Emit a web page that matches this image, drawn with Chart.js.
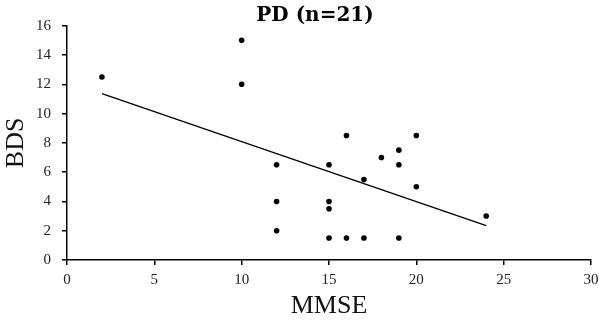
<!DOCTYPE html>
<html>
<head>
<meta charset="utf-8">
<script src="https://cdn.jsdelivr.net/npm/chart.js@4/dist/chart.umd.min.js"></script>
<style>
  html, body { margin: 0; padding: 0; background: #fff; }
  #wrap { width: 599px; height: 320px; position: relative; }
</style>
</head>
<body>
<div id="wrap"><canvas id="c" width="599" height="320"></canvas></div>
<script>
// Data
const chartTitle = 'PD (n=21)';
const xAxisTitle = 'MMSE';
const yAxisTitle = 'BDS';
const mmse = [2, 10, 10, 12, 12, 12, 15, 15, 15, 15, 16, 16, 17, 17, 18, 19, 19, 19, 20, 20, 24];
const bds  = [12.5, 15, 12, 6.5, 4, 2, 6.5, 4, 3.5, 1.5, 8.5, 1.5, 5.5, 1.5, 7, 7.5, 6.5, 1.5, 8.5, 5, 3];
const xTicks = [0, 5, 10, 15, 20, 25, 30];
const yTicks = [0, 2, 4, 6, 8, 10, 12, 14, 16];

// Least-squares trend line over the data range
const n = mmse.length;
const mx = mmse.reduce((a, b) => a + b, 0) / n;
const my = bds.reduce((a, b) => a + b, 0) / n;
let sxy = 0, sxx = 0;
for (let i = 0; i < n; i++) { sxy += (mmse[i] - mx) * (bds[i] - my); sxx += (mmse[i] - mx) ** 2; }
const slope = sxy / sxx;
const intercept = my - slope * mx;
const xMinData = Math.min(...mmse), xMaxData = Math.max(...mmse);
const trend = [
  { x: xMinData, y: intercept + slope * xMinData },
  { x: xMaxData, y: intercept + slope * xMaxData }
];

const points = mmse.map((x, i) => ({ x: x, y: bds[i] }));

const tickFont = { family: '"Liberation Serif", serif', size: 15 };
const titleFont = { family: '"Liberation Serif", serif', size: 26, lineHeight: 1.2 };

new Chart(document.getElementById('c'), {
  type: 'scatter',
  data: {
    datasets: [
      {
        type: 'scatter',
        data: points,
        backgroundColor: '#000',
        borderColor: '#000',
        pointRadius: 2.8,
        pointHoverRadius: 2.8,
        borderWidth: 0
      },
      {
        type: 'line',
        data: trend,
        borderColor: '#000',
        borderWidth: 1.3,
        pointRadius: 0,
        fill: false,
        tension: 0
      }
    ]
  },
  options: {
    responsive: false,
    animation: false,
    devicePixelRatio: 1,
    layout: { padding: { left: 31, right: 0, top: 0, bottom: 0 } },
    plugins: {
      legend: { display: false },
      tooltip: { enabled: false },
      title: {
        display: true,
        text: chartTitle,
        color: '#000',
        font: { family: '"DejaVu Serif", serif', size: 20, weight: 'bold', lineHeight: 1.0 },
        padding: { top: 5.5, bottom: 0.2 }
      }
    },
    scales: {
      x: {
        type: 'linear',
        min: 0, max: 30,
        afterBuildTicks: (s) => { s.ticks = xTicks.map(v => ({ value: v })); },
        afterFit: (s) => { s.height = 60; s.paddingRight = 8; s.paddingLeft = 0; },
        ticks: { color: '#222', font: tickFont, padding: 6, maxRotation: 0 },
        grid: { display: true, drawOnChartArea: false, drawTicks: true, tickLength: 5, color: '#000', lineWidth: 1.5 },
        border: { display: true, color: '#000', width: 1.5 },
        title: { display: true, text: xAxisTitle, color: '#111', font: titleFont, padding: { top: 0, bottom: -1.6 } }
      },
      y: {
        type: 'linear',
        min: 0, max: 16,
        afterBuildTicks: (s) => { s.ticks = yTicks.map(v => ({ value: v })); },
        afterFit: (s) => { s.width = 36; },
        ticks: { color: '#222', font: tickFont, padding: 11 },
        grid: { display: true, drawOnChartArea: false, drawTicks: true, tickLength: 5, color: '#000', lineWidth: 1.5 },
        border: { display: true, color: '#000', width: 1.5 },
        title: { display: true, text: yAxisTitle, color: '#111', font: titleFont, padding: { top: -30, bottom: 0 } }
      }
    }
  }
});
</script>
</body>
</html>
